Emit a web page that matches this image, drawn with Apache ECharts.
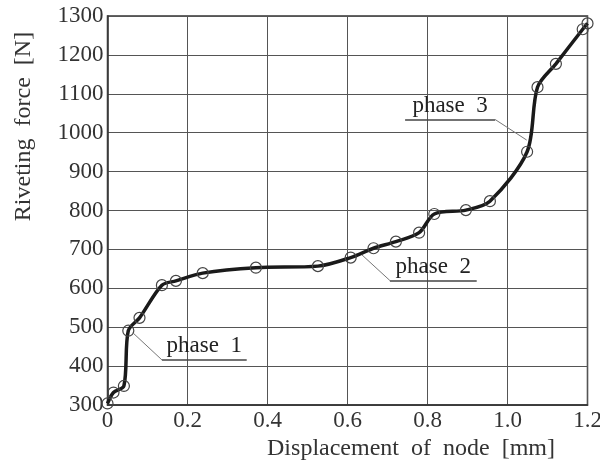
<!DOCTYPE html>
<html>
<head>
<meta charset="utf-8">
<script src="https://cdn.jsdelivr.net/npm/echarts@6/dist/echarts.min.js"></script>
<style>
  html, body { margin: 0; padding: 0; background: #fff; }
  #chart { width: 600px; height: 460px; }
</style>
</head>
<body>
<div id="chart"></div>
<script>
// displacement of node [mm] and riveting force [N]
const displacement = [0, 0.015, 0.041, 0.052, 0.080, 0.136, 0.171, 0.238, 0.371, 0.526, 0.608,
  0.665, 0.721, 0.779, 0.817, 0.896, 0.956, 1.049, 1.075, 1.121, 1.188, 1.200];
const force = [304, 332, 349, 491, 524, 608, 619, 639, 653, 657, 679,
  703, 720, 743, 791, 801, 824, 951, 1117, 1177, 1266, 1281];

// phase labels: leader start (on curve) -> elbow, then underline
const phaseNames = ["phase  1", "phase  2", "phase  3"];
const phaseLeader = [
  [[0.063, 486], [0.136, 416]],
  [[0.636, 686], [0.706, 620]],
  [[1.048, 981], [0.969, 1034]],
];
const phaseUnderline = [
  [[0.136, 416], [0.348, 416]],
  [[0.706, 620], [0.923, 620]],
  [[0.744, 1034], [0.969, 1034]],
];

const serif = "Liberation Serif";
const chart = echarts.init(document.getElementById("chart"));

let markData = [];
phaseNames.forEach((name, i) => {
  markData.push([
    { coord: phaseLeader[i][0], lineStyle: { color: "#777", width: 1, type: "solid" }, label: { show: false } },
    { coord: phaseLeader[i][1] },
  ]);
  markData.push([
    {
      coord: phaseUnderline[i][0],
      lineStyle: { color: "#444", width: 1.5, type: "solid" },
      label: {
        show: true,
        formatter: name,
        position: "insideMiddleTop",
        distance: 2,
        fontFamily: serif,
        fontSize: 23,
        color: "#222",
      },
    },
    { coord: phaseUnderline[i][1] },
  ]);
});

chart.setOption({
  animation: false,
  backgroundColor: "#fff",
  grid: {
    left: 107.5,
    right: 12.5,
    top: 16,
    bottom: 55,
    containLabel: false,
    outerBoundsMode: "none",
    show: true,
    borderColor: "#333",
    borderWidth: 1.5,
  },
  xAxis: {
    type: "value",
    min: 0,
    max: 1.2,
    interval: 0.2,
    name: "Displacement  of  node  [mm]",
    nameLocation: "middle",
    nameGap: 29,
    nameTextStyle: {
      fontFamily: serif,
      fontSize: 24,
      color: "#333",
      padding: [0, 0, 0, 127],
    },
    axisLine: { lineStyle: { color: "#333", width: 1.5 } },
    axisTick: { show: false },
    axisLabel: {
      margin: 4,
      fontFamily: serif,
      fontSize: 23,
      color: "#333",
      formatter: (v) => (v === 0 ? "0" : v.toFixed(1)),
    },
    splitLine: { show: true, lineStyle: { color: "#555", width: 1 } },
  },
  yAxis: {
    type: "value",
    min: 300,
    max: 1300,
    interval: 100,
    name: "Riveting  force  [N]",
    nameLocation: "middle",
    nameGap: 72,
    nameTextStyle: {
      fontFamily: serif,
      fontSize: 24,
      color: "#333",
      padding: [0, 0, 0, 168],
    },
    axisLine: { show: true, lineStyle: { color: "#333", width: 1.5 } },
    axisTick: { show: false },
    axisLabel: {
      margin: 4,
      fontFamily: serif,
      fontSize: 23,
      color: "#333",
      formatter: (v) => String(v),
    },
    splitLine: { show: true, lineStyle: { color: "#555", width: 1 } },
  },
  series: [
    {
      type: "line",
      data: displacement.map((x, i) => [x, force[i]]),
      smooth: 0.3,
      symbol: "circle",
      symbolSize: 11,
      showAllSymbol: true,
      lineStyle: { color: "#1a1a1a", width: 3.5 },
      itemStyle: { color: "rgba(0,0,0,0)", borderColor: "#444", borderWidth: 1.2 },
      z: 3,
    },
    {
      type: "line",
      data: [],
      silent: true,
      markLine: {
        silent: true,
        symbol: ["none", "none"],
        data: markData,
      },
    },
  ],
});
</script>
</body>
</html>
